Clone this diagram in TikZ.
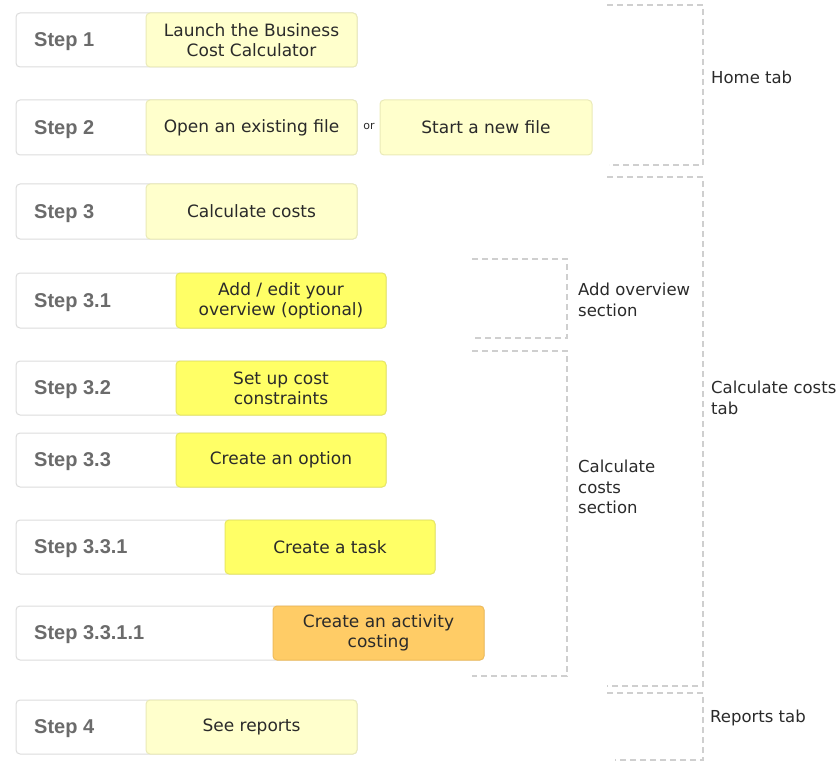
\documentclass[tikz,border=0pt]{standalone}
\usepackage{fontspec}
\setmainfont{DejaVu Sans}
\newfontfamily\steplabelfont{Liberation Sans}
\definecolor{frameline}{HTML}{DCDCDC}
\definecolor{palefill}{HTML}{FFFFCC}
\definecolor{paleline}{HTML}{EAEAB8}
\definecolor{brightfill}{HTML}{FFFF66}
\definecolor{brightline}{HTML}{E8E860}
\definecolor{orangefill}{HTML}{FFCC66}
\definecolor{orangeline}{HTML}{F0BC5A}
\definecolor{labelgray}{HTML}{6B6B6B}
\definecolor{textdark}{HTML}{2A2A2A}
\definecolor{bracketgray}{HTML}{CFCFCF}

\tikzset{
  rowframe/.style={draw=frameline, fill=white, line width=1pt, rounded corners=4pt,
    inner sep=0pt, outer sep=0pt},
  actionbox/.style={line width=1pt, rounded corners=4pt, inner sep=0pt, outer sep=0pt,
    align=center, text=textdark, font=\fontsize{17}{20}\selectfont},
  pale/.style={actionbox, draw=paleline, fill=palefill},
  bright/.style={actionbox, draw=brightline, fill=brightfill},
  orange/.style={actionbox, draw=orangeline, fill=orangefill},
  steptag/.style={anchor=west, inner sep=0pt, text=labelgray,
    font=\steplabelfont\bfseries\fontsize{20}{24}\selectfont},
  grouplabel/.style={anchor=west, inner sep=0pt, align=left, text=textdark,
    font=\fontsize{16.5}{20.5}\selectfont},
  bracket/.style={draw=bracketgray, line width=1.5pt, dash pattern=on 6pt off 4pt}
}

% #1 name, #2 top, #3 bottom, #4 left of action box, #5 right of action box,
% #6 action style, #7 step tag, #8 action text
\newcommand\steprow[8]{%
  \node[rowframe, minimum width={(#5-16)*1pt}, minimum height={(#3-#2)*1pt}]
    (#1) at ({(16+#5)/2},{(#2+#3)/2}) {};
  \node[steptag] (#1-tag) at (34,{(#2+#3)/2+2}) {#7};
  \node[#6, minimum width={(#5-#4)*1pt}, minimum height={(#3-#2)*1pt}]
    (#1-act) at ({(#4+#5)/2},{(#2+#3)/2}) {#8};
}

\begin{document}
\begin{tikzpicture}[x=1pt,y=-1pt]
\useasboundingbox (0,0) rectangle (840,762);

% step rows
\steprow{s1}{13}{67}{146}{357}{pale}{Step 1}{Launch the Business\\Cost Calculator}
\steprow{s2}{100}{155}{146}{357}{pale}{Step 2}{Open an existing file}
\node[pale, minimum width=212pt, minimum height=55pt] (s2alt) at (486,127.5) {Start a new file};
\node[inner sep=0pt, text=textdark, font=\fontsize{11}{13}\selectfont] (or) at (369,126) {or};
\steprow{s3}{184}{239}{146}{357}{pale}{Step 3}{Calculate costs}
\steprow{s31}{273}{328}{176}{386}{bright}{Step 3.1}{Add / edit your\\overview (optional)}
\steprow{s32}{361}{415}{176}{386}{bright}{Step 3.2}{Set up cost\\constraints}
\steprow{s33}{433}{487}{176}{386}{bright}{Step 3.3}{Create an option}
\steprow{s331}{520}{574}{225}{435}{bright}{Step 3.3.1}{Create a task}
\steprow{s3311}{606}{660}{273}{484}{orange}{Step 3.3.1.1}{Create an activity\\costing}
\steprow{s4}{700}{754}{146}{357}{pale}{Step 4}{See reports}

% section brackets
\draw[bracket] (472,259) -- (567,259) -- (567,338) -- (474,338);
\draw[bracket] (472,351) -- (567,351) -- (567,676) -- (472,676);

% tab brackets
\draw[bracket] (607,5) -- (703,5) -- (703,165) -- (609,165);
\draw[bracket] (607,177) -- (703,177) -- (703,686) -- (607,686);
\draw[bracket] (607,693) -- (703,693) -- (703,760) -- (615,760);

% group labels
\node[grouplabel] (secover) at (578,300) {Add overview\\section};
\node[grouplabel] (seccalc) at (578,487) {Calculate\\costs\\section};
\node[grouplabel] (tabhome) at (711,77) {Home tab};
\node[grouplabel] (tabcalc) at (711,398) {Calculate costs\\tab};
\node[grouplabel] (tabrep) at (710,718) {Reports tab};
\end{tikzpicture}
\end{document}
